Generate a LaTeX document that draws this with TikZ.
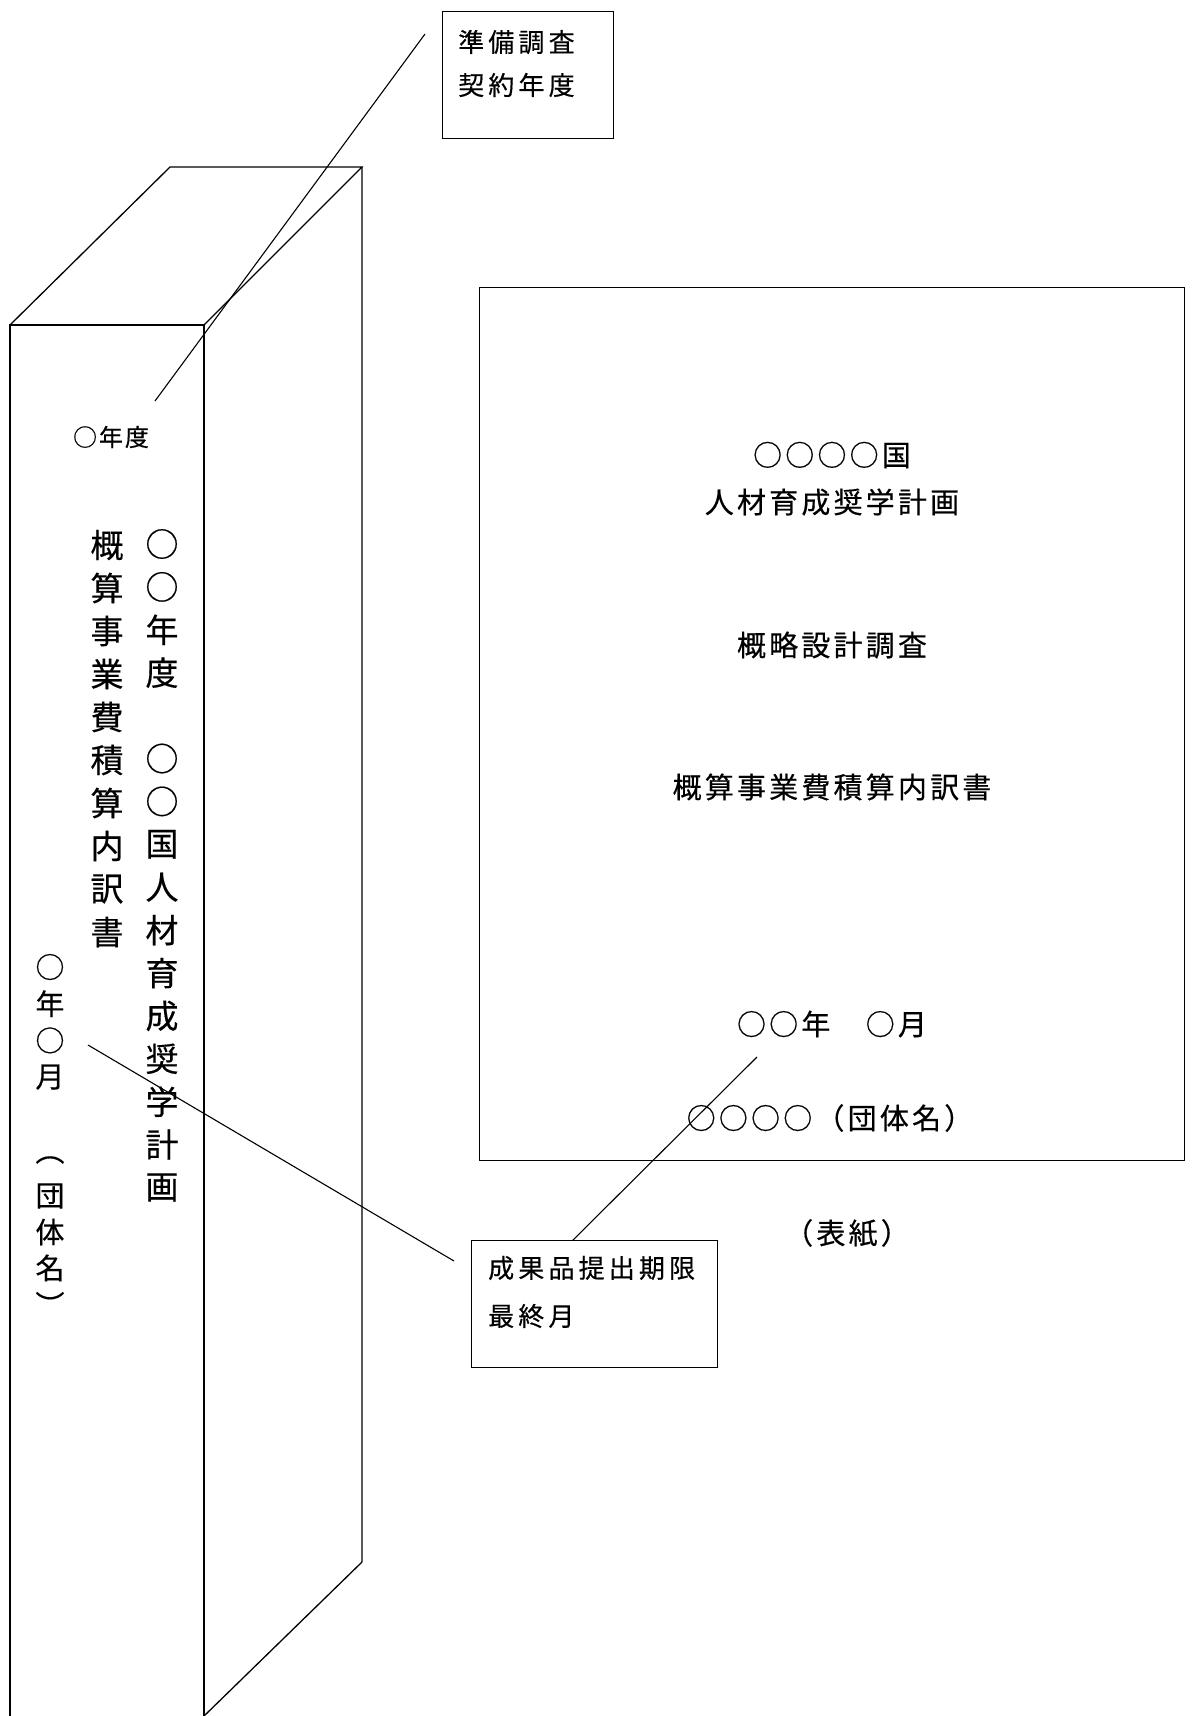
\documentclass[tikz,border=0pt]{standalone}
\usepackage{fontspec}
\setmainfont{Noto Sans CJK JP}
\newfontfamily\jpcover[LetterSpace=11,FakeBold=0.4]{Noto Sans CJK JP}
\newfontfamily\jpcall[LetterSpace=16,FakeBold=0.4]{Noto Sans CJK JP}
\newfontfamily\jpsmall[LetterSpace=8,FakeBold=0.4]{Noto Sans CJK JP}
\newfontfamily\jpvert[FakeBold=0.4]{Noto Sans CJK JP}
\begin{document}
\begin{tikzpicture}[x=1pt,y=-1pt,
  edge/.style={line width=1.3pt, line join=miter},
  leader/.style={line width=1.1pt},
  cover/.style={inner sep=0pt, font=\jpcover\fontsize{29}{34}\selectfont},
  calltext/.style={inner sep=0pt, anchor=west, font=\jpcall\fontsize{26}{30}\selectfont},
  callbox/.style={draw, line width=1.3pt, inner sep=0pt, anchor=north west},
  vbig/.style={inner sep=0pt, font=\jpvert\fontsize{33}{40}\selectfont},
  vsmall/.style={inner sep=0pt, font=\jpvert\fontsize{29}{35}\selectfont}
]
\useasboundingbox (0,0) rectangle (1194,1716);

% spine box (3D)
\draw[edge] (10,1716) -- (10,325) -- (204,325) -- (204,1716);
\draw[edge] (10,325) -- (170,167) -- (362,167) -- (204,325);
\draw[edge] (362,167) -- (362,1562) -- (204,1716);

% spine texts
\node[inner sep=0pt, font=\jpsmall\fontsize{24}{30}\selectfont] (spineyear) at (111,437) {○年度};
\foreach \c [count=\i from 0] in {○,○,年,度,　,○,○,国,人,材,育,成,奨,学,計,画}
  \node[vbig] (ta\i) at (162,{544+42.9*\i}) {\c};
\foreach \c [count=\i from 0] in {概,算,事,業,費,積,算,内,訳,書}
  \node[vbig] (tb\i) at (107,{545+43*\i}) {\c};
\foreach \c [count=\i from 0] in {○,年,○,月}
  \node[vsmall] (tc\i) at (50,{967+36.7*\i}) {\c};
\foreach \c [count=\i from 0] in {︵,団,体,名,︶}
  \node[vsmall] (td\i) at (50,{1160+36*\i}) {\c};

% cover page
\node[draw, line width=1.3pt, inner sep=0pt, minimum width=705pt, minimum height=873pt, anchor=north west] (cover) at (479,287) {};
\node[cover] (c1) at (832,455) {○○○○国};
\node[cover] (c2) at (832,502) {人材育成奨学計画};
\node[cover] (c3) at (832,645) {概略設計調査};
\node[cover] (c4) at (832,787) {概算事業費積算内訳書};
\node[cover] (c5) at (832,1024) {○○年　○月};
\node[cover] (c6) at (830,1118) {○○○○（団体名）};
\node[cover] (c7) at (847,1233) {（表紙）};

% callout boxes
\node[callbox, minimum width=171pt, minimum height=127pt] (prep) at (442,11) {};
\node[calltext] (prep1) at (458,42) {準備調査};
\node[calltext] (prep2) at (458,85) {契約年度};

\node[callbox, minimum width=246pt, minimum height=127pt] (due) at (471,1240) {};
\node[calltext] (due1) at (488,1268) {成果品提出期限};
\node[calltext] (due2) at (488,1316) {最終月};

% leader lines
\coordinate (la) at (425,34);
\coordinate (lb) at (155,401);
\coordinate (lc) at (88,1045);
\coordinate (ld) at (454,1261);
\coordinate (le) at (757,1057);
\coordinate (lf) at (573,1240);
\draw[leader] (la) -- (lb);
\draw[leader] (lc) -- (ld);
\draw[leader] (le) -- (lf);
\end{tikzpicture}
\end{document}
